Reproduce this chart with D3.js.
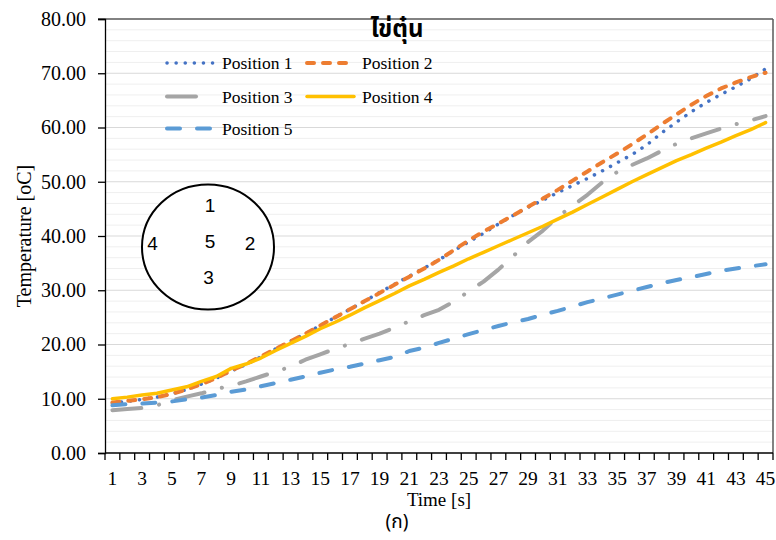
<!DOCTYPE html>
<html><head><meta charset="utf-8">
<script src="https://cdn.jsdelivr.net/npm/d3@7"></script>
<style>
html,body{margin:0;padding:0;background:#fff;}
svg{display:block;}
</style></head>
<body>
<svg id="chart" width="776" height="540"></svg>
<script>
const categories = [1,2,3,4,5,6,7,8,9,10,11,12,13,14,15,16,17,18,19,20,21,22,23,24,25,26,27,28,29,30,31,32,33,34,35,36,37,38,39,40,41,42,43,44,45];
const xTickLabels = [1,3,5,7,9,11,13,15,17,19,21,23,25,27,29,31,33,35,37,39,41,43,45];
const yTicks = [0,10,20,30,40,50,60,70,80];
const yMinorTicks = [2,4,6,8,12,14,16,18,22,24,26,28,32,34,36,38,42,44,46,48,52,54,56,58,62,64,66,68,72,74,76,78];
const seriesNames = ["Position 1","Position 2","Position 3","Position 4","Position 5"];
const position1 = [9.2,9.5,9.9,10.3,10.9,11.7,12.7,13.8,15.1,16.3,17.7,19.2,20.6,22.0,23.5,25.0,26.5,28.0,29.6,31.1,32.6,34.1,35.6,37.3,38.9,40.5,42.2,43.8,45.3,46.6,48.0,49.3,50.6,52.0,53.5,55.0,56.8,59.0,61.0,62.9,64.6,66.1,67.5,69.0,70.8];
const position2 = [9.3,9.6,9.9,10.3,10.9,11.7,12.7,13.8,15.2,16.4,17.8,19.2,20.6,22.0,23.5,25.0,26.5,28.0,29.5,31.0,32.5,34.0,35.6,37.4,39.2,40.8,42.3,43.8,45.4,46.9,48.5,50.2,51.9,53.6,55.2,56.9,58.7,60.6,62.4,64.2,65.8,67.2,68.3,69.3,70.1];
const position3 = [7.9,8.1,8.3,8.8,9.7,10.4,11.0,11.8,12.4,13.2,14.1,15.0,15.9,17.2,18.2,19.2,20.1,21.1,22.0,23.1,24.3,25.4,26.4,27.9,29.8,31.6,33.8,36.3,38.9,41.0,43.5,45.6,47.6,49.9,51.8,53.1,54.3,55.7,57.0,58.0,58.9,59.8,60.6,61.3,62.1];
const position4 = [10.0,10.3,10.7,11.0,11.6,12.2,13.2,14.1,15.6,16.4,17.5,18.9,20.2,21.5,22.9,24.1,25.4,26.8,28.1,29.4,30.8,32.0,33.3,34.5,35.8,37.0,38.2,39.4,40.6,41.8,43.1,44.4,45.8,47.2,48.6,50.0,51.3,52.6,53.9,55.0,56.2,57.3,58.5,59.6,60.9];
const position5 = [8.8,9.0,9.1,9.3,9.5,9.9,10.2,10.7,11.3,11.7,12.3,12.9,13.5,14.1,14.8,15.4,15.9,16.5,17.1,17.7,18.8,19.4,20.3,21.1,21.9,22.7,23.4,24.1,24.7,25.5,26.2,27.0,27.8,28.5,29.2,29.9,30.6,31.3,31.9,32.4,33.0,33.6,34.0,34.4,34.8];
const seriesValues = [position1, position2, position3, position4, position5];
const seriesColors = ["#4472C4","#ED7D31","#A5A5A5","#FFC000","#5B9BD5"];
const seriesDash = ["0.1 9","7 9","29 18 0.1 18",null,"13 17"];
const seriesWidth = [3.5,4,4,3.5,4];
const circleLabels = ["1","2","3","4","5"];

const svg = d3.select("#chart");
const L = 105, R = 773, T = 19, B = 453;
const x = d3.scaleBand().domain(categories).range([L, R]).padding(0);
const y = d3.scaleLinear().domain([0, 80]).range([B, T]);
const serif = "'Liberation Serif','Times New Roman',serif";
const thai = "'Noto Sans Thai','Noto Sans','DejaVu Sans',sans-serif";

// minor gridlines
svg.append("g").selectAll("line").data(yMinorTicks).join("line")
  .attr("x1", L).attr("x2", R).attr("y1", d => y(d)).attr("y2", d => y(d))
  .attr("stroke", "#efefef").attr("stroke-width", 1);
// major gridlines
svg.append("g").selectAll("line").data(yTicks.filter(d => d > 0 && d < 80)).join("line")
  .attr("x1", L).attr("x2", R).attr("y1", d => y(d)).attr("y2", d => y(d))
  .attr("stroke", "#d9d9d9").attr("stroke-width", 1);

// plot border (top/right)
svg.append("line").attr("x1", L - 7).attr("x2", R).attr("y1", y(80)).attr("y2", y(80))
  .attr("stroke", "#595959").attr("stroke-width", 1.5);
svg.append("line").attr("x1", R).attr("x2", R).attr("y1", T).attr("y2", B)
  .attr("stroke", "#595959").attr("stroke-width", 1.5);

// y axis
const yAxis = svg.append("g").attr("transform", `translate(${L},0)`)
  .call(d3.axisLeft(y).tickValues(yTicks).tickFormat(d3.format(".2f")).tickSize(7).tickPadding(12));
yAxis.select(".domain").attr("stroke", "#000").attr("stroke-width", 1.3);
yAxis.selectAll(".tick line").attr("stroke", "#000").attr("stroke-width", 1.3);
yAxis.selectAll(".tick text").attr("font-family", serif).attr("font-size", 20).attr("fill", "#000");

// x axis
const xAxis = svg.append("g").attr("transform", `translate(0,${B})`);
xAxis.append("line").attr("x1", L).attr("x2", R).attr("y1", 0).attr("y2", 0)
  .attr("stroke", "#000").attr("stroke-width", 1.3);
const boundaries = categories.map(c => x(c)).concat([x(categories[categories.length - 1]) + x.bandwidth()]);
xAxis.selectAll("line.tk").data(boundaries).join("line").attr("class", "tk")
  .attr("x1", d => d).attr("x2", d => d).attr("y1", 0).attr("y2", 7)
  .attr("stroke", "#000").attr("stroke-width", 1.3);
xAxis.selectAll("text").data(xTickLabels).join("text")
  .attr("x", d => x(d) + x.bandwidth() / 2).attr("y", 32)
  .attr("text-anchor", "middle").attr("font-family", serif).attr("font-size", 19.5).attr("fill", "#000")
  .text(d => d);

// axis titles
svg.append("text").attr("x", (L + R) / 2).attr("y", 506).attr("text-anchor", "middle")
  .attr("font-family", serif).attr("font-size", 19).text("Time [s]");
svg.append("text").attr("transform", `translate(31,${(T + B) / 2}) rotate(-90)`).attr("text-anchor", "middle")
  .attr("font-family", serif).attr("font-size", 20).text("Temperature [oC]");

// title
svg.append("text").attr("x", 397).attr("y", 37).attr("text-anchor", "middle")
  .attr("font-family", thai).attr("font-weight", "bold")
  .attr("font-size", 24).text("ไข่ตุ๋น");

// caption
svg.append("text").attr("x", 397).attr("y", 528).attr("text-anchor", "middle")
  .attr("font-family", thai).attr("font-size", 19).text("(ก)");

// series
const line = d3.line().x((d, i) => x(categories[i]) + x.bandwidth() / 2).y(d => y(d));
const gS = svg.append("g");
seriesValues.forEach((vals, k) => {
  gS.append("path").datum(vals).attr("d", line).attr("fill", "none")
    .attr("stroke", seriesColors[k]).attr("stroke-width", seriesWidth[k])
    .attr("stroke-linecap", "round").attr("stroke-linejoin", "round")
    .attr("stroke-dasharray", seriesDash[k]);
});

// legend
const legPos = [[167, 63], [307, 63], [167, 96.5], [307, 96.5], [167, 128.5]];
const gL = svg.append("g");
seriesNames.forEach((name, k) => {
  const [lx, ly] = legPos[k];
  gL.append("line").attr("x1", lx).attr("x2", lx + 47).attr("y1", ly).attr("y2", ly)
    .attr("stroke", seriesColors[k]).attr("stroke-width", seriesWidth[k])
    .attr("stroke-linecap", "round").attr("stroke-dasharray", seriesDash[k]);
  gL.append("text").attr("x", lx + 55).attr("y", ly + 6).attr("font-family", serif)
    .attr("font-size", 17.5).attr("fill", "#000").text(name);
});

// circle diagram
const gC = svg.append("g");
gC.append("ellipse").attr("cx", 208).attr("cy", 247).attr("rx", 66).attr("ry", 62.5)
  .attr("fill", "#fff").attr("stroke", "#000").attr("stroke-width", 2);
const circlePos = [[210, 205], [250, 242.5], [208.5, 276.5], [152.5, 242.5], [210, 241]];
circleLabels.forEach((t, k) => {
  gC.append("text").attr("x", circlePos[k][0]).attr("y", circlePos[k][1] + 7)
    .attr("text-anchor", "middle").attr("font-family", "'Liberation Sans',Arial,sans-serif")
    .attr("font-size", 19).attr("fill", "#000").text(t);
});
</script>
</body></html>
